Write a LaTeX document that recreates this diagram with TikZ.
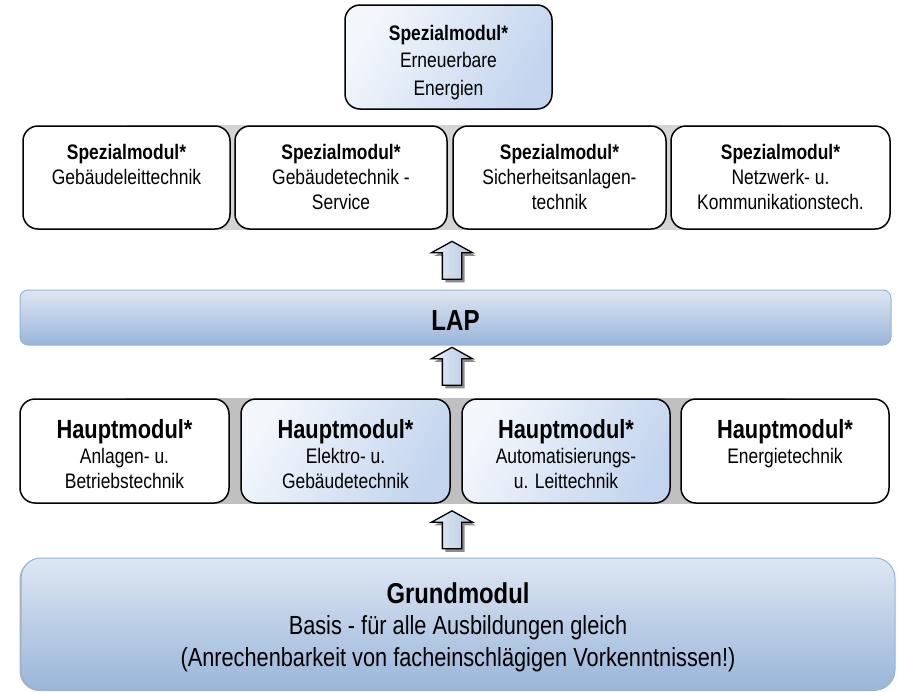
\documentclass[tikz,border=0pt]{standalone}
\usepackage{fontspec}
\setmainfont{Liberation Sans}[FakeStretch=0.83]
\usepackage{tikz}
\usetikzlibrary{positioning, shapes, shadows, backgrounds, calc}

\definecolor{paleblue}{HTML}{F3F7FC}
\definecolor{softblue}{HTML}{C3D5EE}
\definecolor{lapblue}{HTML}{DDE7F3}
\definecolor{deepblue}{HTML}{9AB5D9}
\definecolor{rimblue}{HTML}{95B3D7}
\definecolor{arrowlight}{HTML}{E8EEF7}
\definecolor{arrowdark}{HTML}{B3C7E3}
\definecolor{spgray}{HTML}{D4D4D4}
\definecolor{hmgray}{HTML}{C0C0C0}

\tikzset{
	modbox/.style={draw=black, line width=1.5pt, rounded corners=15pt, fill=white, inner sep=0pt},
	shadedbox/.style={modbox, left color=paleblue, right color=softblue, shading angle=60},
	layerbar/.style={draw=rimblue, line width=1pt, top color=lapblue, bottom color=deepblue, inner sep=0pt},
	modtext/.style={align=center, inner sep=0pt, anchor=north, font=\fontsize{21}{25}\selectfont},
	uparrow/.style={single arrow, shape border rotate=90, draw=black, line width=1.3pt,
		inner sep=9pt, single arrow head extend=11pt, single arrow tip angle=122,
		minimum height=38pt, minimum width=40pt, left color=arrowlight, right color=arrowdark,
		drop shadow={shadow xshift=3pt, shadow yshift=-3pt, fill=black!45, opacity=1}}
}

\begin{document}
\begin{tikzpicture}[x=1pt,y=-1pt]
\useasboundingbox (0,0) rectangle (897,691);

% row centres and arrow column
\pgfmathsetmacro{\toprow}{57}
\pgfmathsetmacro{\sprow}{177.5}
\pgfmathsetmacro{\laprow}{317.5}
\pgfmathsetmacro{\hmrow}{451}
\pgfmathsetmacro{\grundrow}{624}
\pgfmathsetmacro{\arrx}{452}

% top special module
\node[shadedbox, minimum width=207pt, minimum height=104pt] (erneuer) at (448.5,\toprow) {};
\node[modtext, font=\fontsize{21}{27.5}\selectfont, below=20.4pt of erneuer.north] (erneuertxt)
	{\textbf{Spezialmodul*}\\Erneuerbare\\Energien};

% row of special modules
\node[modbox, minimum width=207pt, minimum height=103pt] (sp1) at (126.5,\sprow) {};
\node[modbox, minimum width=212pt, minimum height=103pt] (sp2) at (341,\sprow) {};
\node[modbox, minimum width=213pt, minimum height=103pt] (sp3) at (559.5,\sprow) {};
\node[modbox, minimum width=219pt, minimum height=103pt] (sp4) at (780.5,\sprow) {};
\node[modtext, below=19.2pt of sp1.north] (sp1txt) {\textbf{Spezialmodul*}\\Gebäudeleittechnik};
\node[modtext, below=19.2pt of sp2.north] (sp2txt) {\textbf{Spezialmodul*}\\Gebäudetechnik -\\Service};
\node[modtext, below=19.2pt of sp3.north] (sp3txt) {\textbf{Spezialmodul*}\\Sicherheitsanlagen-\\technik};
\node[modtext, below=19.2pt of sp4.north] (sp4txt) {\textbf{Spezialmodul*}\\Netzwerk- u.\\Kommunikationstech.};

% final exam bar
\node[layerbar, rounded corners=8pt, minimum width=871pt, minimum height=55pt] (lap) at (455.5,\laprow) {};
\node[inner sep=0pt, font=\fontsize{29}{30}\selectfont\bfseries] (laptxt) at (455.5,321) {LAP};

% row of main modules
\node[modbox, minimum width=209pt, minimum height=104pt] (hm1) at (124.5,\hmrow) {};
\node[shadedbox, minimum width=209pt, minimum height=104pt] (hm2) at (345.5,\hmrow) {};
\node[shadedbox, minimum width=208pt, minimum height=104pt] (hm3) at (566,\hmrow) {};
\node[modbox, minimum width=208pt, minimum height=104pt] (hm4) at (785,\hmrow) {};
\node[modtext, below=21.2pt of hm1.north] (hm1txt)
	{{\fontsize{26.3}{25}\selectfont\bfseries Hauptmodul*}\\Anlagen- u.\\Betriebstechnik};
\node[modtext, below=21.2pt of hm2.north] (hm2txt)
	{{\fontsize{26.3}{25}\selectfont\bfseries Hauptmodul*}\\Elektro- u.\\Gebäudetechnik};
\node[modtext, below=21.2pt of hm3.north] (hm3txt)
	{{\fontsize{26.3}{25}\selectfont\bfseries Hauptmodul*}\\Automatisierungs-\\u. Leittechnik};
\node[modtext, below=21.2pt of hm4.north] (hm4txt)
	{{\fontsize{26.3}{25}\selectfont\bfseries Hauptmodul*}\\Energietechnik};

% basic module
\node[layerbar, rounded corners=20pt, minimum width=874pt, minimum height=132pt,
	drop shadow={shadow xshift=-1.5pt, shadow yshift=-1pt, fill=black!30, opacity=1}] (grund) at (458,\grundrow) {};
\node[modtext, font=\fontsize{26.2}{31.5}\selectfont, below=24.5pt of grund.north] (grundtxt)
	{{\fontsize{28.7}{31.5}\selectfont\bfseries Grundmodul}\\Basis - für alle Ausbildungen gleich\\(Anrechenbarkeit von facheinschlägigen Vorkenntnissen!)};

% block arrows between the layers
\node[uparrow] (arrlap) at (\arrx,263) {};
\node[uparrow] (arrhm) at (\arrx,369) {};
\node[uparrow] (arrgrund) at (\arrx,532.5) {};

% grey strips behind the module rows
\begin{pgfonlayer}{background}
	\fill[spgray] (sp1.north) rectangle (sp4.south);
	\fill[hmgray] (hm1.north) rectangle (hm4.south);
\end{pgfonlayer}

\end{tikzpicture}
\end{document}
